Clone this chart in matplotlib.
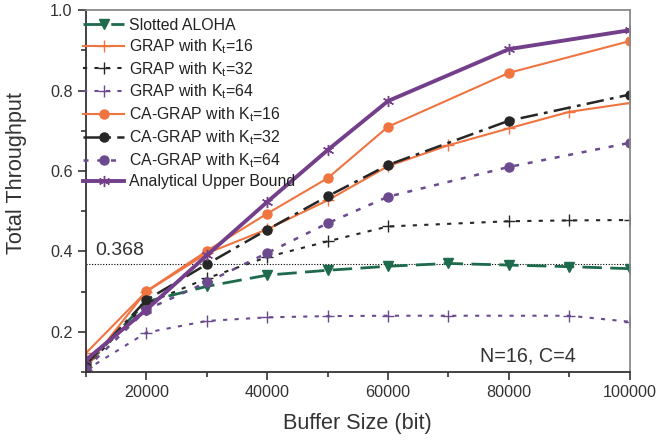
import numpy as np
import matplotlib
matplotlib.use("Agg")
import matplotlib.pyplot as plt
from matplotlib.ticker import MultipleLocator, FuncFormatter

plt.rcParams['font.family'] = ['Liberation Sans', 'DejaVu Sans']
plt.rcParams['mathtext.fontset'] = 'custom'
plt.rcParams['mathtext.rm'] = 'Liberation Sans'
plt.rcParams['mathtext.it'] = 'Liberation Sans'

# buffer sizes (bit)
x_all = [10000, 20000, 30000, 40000, 50000, 60000, 70000, 80000, 90000, 100000]
x_ca = [10000, 20000, 30000, 40000, 50000, 60000, 80000, 100000]
x_grap32 = [10000, 20000, 30000, 40000, 50000, 60000, 80000, 90000, 100000]
x_grap64 = [10000, 20000, 30000, 40000, 50000, 60000, 70000, 90000, 100000]

# throughput per scheme
slotted_aloha = [0.115, 0.275, 0.313, 0.341, 0.353, 0.363, 0.370, 0.366, 0.362, 0.357]
grap_16 = [0.147, 0.300, 0.395, 0.455, 0.527, 0.612, 0.664, 0.706, 0.747, 0.769]
grap_32 = [0.112, 0.270, 0.333, 0.386, 0.425, 0.462, 0.475, 0.477, 0.478]
grap_64 = [0.105, 0.198, 0.227, 0.236, 0.239, 0.240, 0.240, 0.240, 0.225]
ca_grap_16 = [0.111, 0.301, 0.401, 0.494, 0.582, 0.710, 0.844, 0.923]
ca_grap_32 = [0.118, 0.279, 0.368, 0.454, 0.537, 0.615, 0.725, 0.790]
ca_grap_64 = [0.108, 0.255, 0.323, 0.396, 0.470, 0.536, 0.610, 0.670]
upper_bound = [0.130, 0.255, 0.390, 0.523, 0.652, 0.774, 0.903, 0.950]

aloha_limit = 0.368

orange = '#ef7440'
purple = '#6b4a8e'
green = '#1d6a4c'
black = '#262626'
text_col = '#333333'

fig = plt.figure(figsize=(6.56, 4.40), dpi=100)
ax = fig.add_axes([0.131, 0.1545, 0.829, 0.8225])

ax.axhline(aloha_limit, color='black', lw=0.8, ls=(0, (1, 1.5)), zorder=1)

ax.plot(x_all, slotted_aloha, color=green, lw=2, ls=(0, (7, 3)), marker='v', ms=6.5,
        label='Slotted ALOHA')
ax.plot(x_all, grap_16, color=orange, lw=1.5, marker='+', ms=8, mew=1,
        label='GRAP with K$_t$=16')
ax.plot(x_grap32, grap_32, color=black, lw=1.5, ls=(0, (2, 3.5)), marker='+', ms=8, mew=1,
        label='GRAP with K$_t$=32')
ax.plot(x_grap64, grap_64, color=purple, lw=1.5, ls=(0, (2, 3.5)), marker='+', ms=8, mew=1,
        label='GRAP with K$_t$=64')
ax.plot(x_ca, ca_grap_16, color=orange, lw=1.5, marker='o', ms=6.5,
        label='CA-GRAP with K$_t$=16')
ax.plot(x_ca, ca_grap_32, color=black, lw=1.8, ls=(0, (7, 2.5, 1.5, 2.5)), marker='o', ms=6.5,
        label='CA-GRAP with K$_t$=32')
ax.plot(x_ca, ca_grap_64, color=purple, lw=1.8, ls=(0, (2, 3.5)), marker='o', ms=6.5,
        label='CA-GRAP with K$_t$=64')
ax.plot(x_ca, upper_bound, color='#733f8a', lw=2.8, marker=(6, 2, 0), ms=8, mew=1,
        label='Analytical Upper Bound')

ax.set_xlim(10000, 100000)
ax.set_ylim(0.1, 1.0)
ax.xaxis.set_major_locator(MultipleLocator(20000))
ax.xaxis.set_minor_locator(MultipleLocator(10000))
ax.yaxis.set_major_locator(MultipleLocator(0.2))
ax.yaxis.set_minor_locator(MultipleLocator(0.1))
ax.xaxis.set_major_formatter(FuncFormatter(lambda v, p: '' if v < 15000 else f'{int(v)}'))
ax.yaxis.set_major_formatter(FuncFormatter(lambda v, p: f'{v:.1f}'))

ax.tick_params(which='major', direction='out', length=6, width=1.2, colors=text_col,
               labelsize=11.6)
ax.tick_params(which='minor', direction='out', length=3.5, width=1.2, colors=text_col)

for side in ['left', 'bottom']:
    ax.spines[side].set_color(text_col)
    ax.spines[side].set_linewidth(1.3)
for side in ['top', 'right']:
    ax.spines[side].set_color('#8a8a8a')
    ax.spines[side].set_linewidth(1.3)

ax.set_xlabel('Buffer Size (bit)', fontsize=15.6, color=text_col)
ax.set_ylabel('Total Throughput', fontsize=15.6, color=text_col)
ax.xaxis.set_label_coords(0.5, -0.112)
ax.yaxis.set_label_coords(-0.108, 0.55)

ax.text(11500, 0.392, '0.368', fontsize=14, color=text_col, va='baseline')
ax.text(0.90, 0.028, 'N=16, C=4', transform=ax.transAxes, fontsize=14.2,
        color=text_col, ha='right', va='baseline')

leg = ax.legend(loc='upper left', frameon=False, fontsize=11.4, handlelength=2.6,
                handletextpad=0.3, labelspacing=0.26, borderaxespad=0.1,
                bbox_to_anchor=(-0.02, 1.0))
for t in leg.get_texts():
    t.set_color('#222222')

fig.savefig('out.png', dpi=100)
